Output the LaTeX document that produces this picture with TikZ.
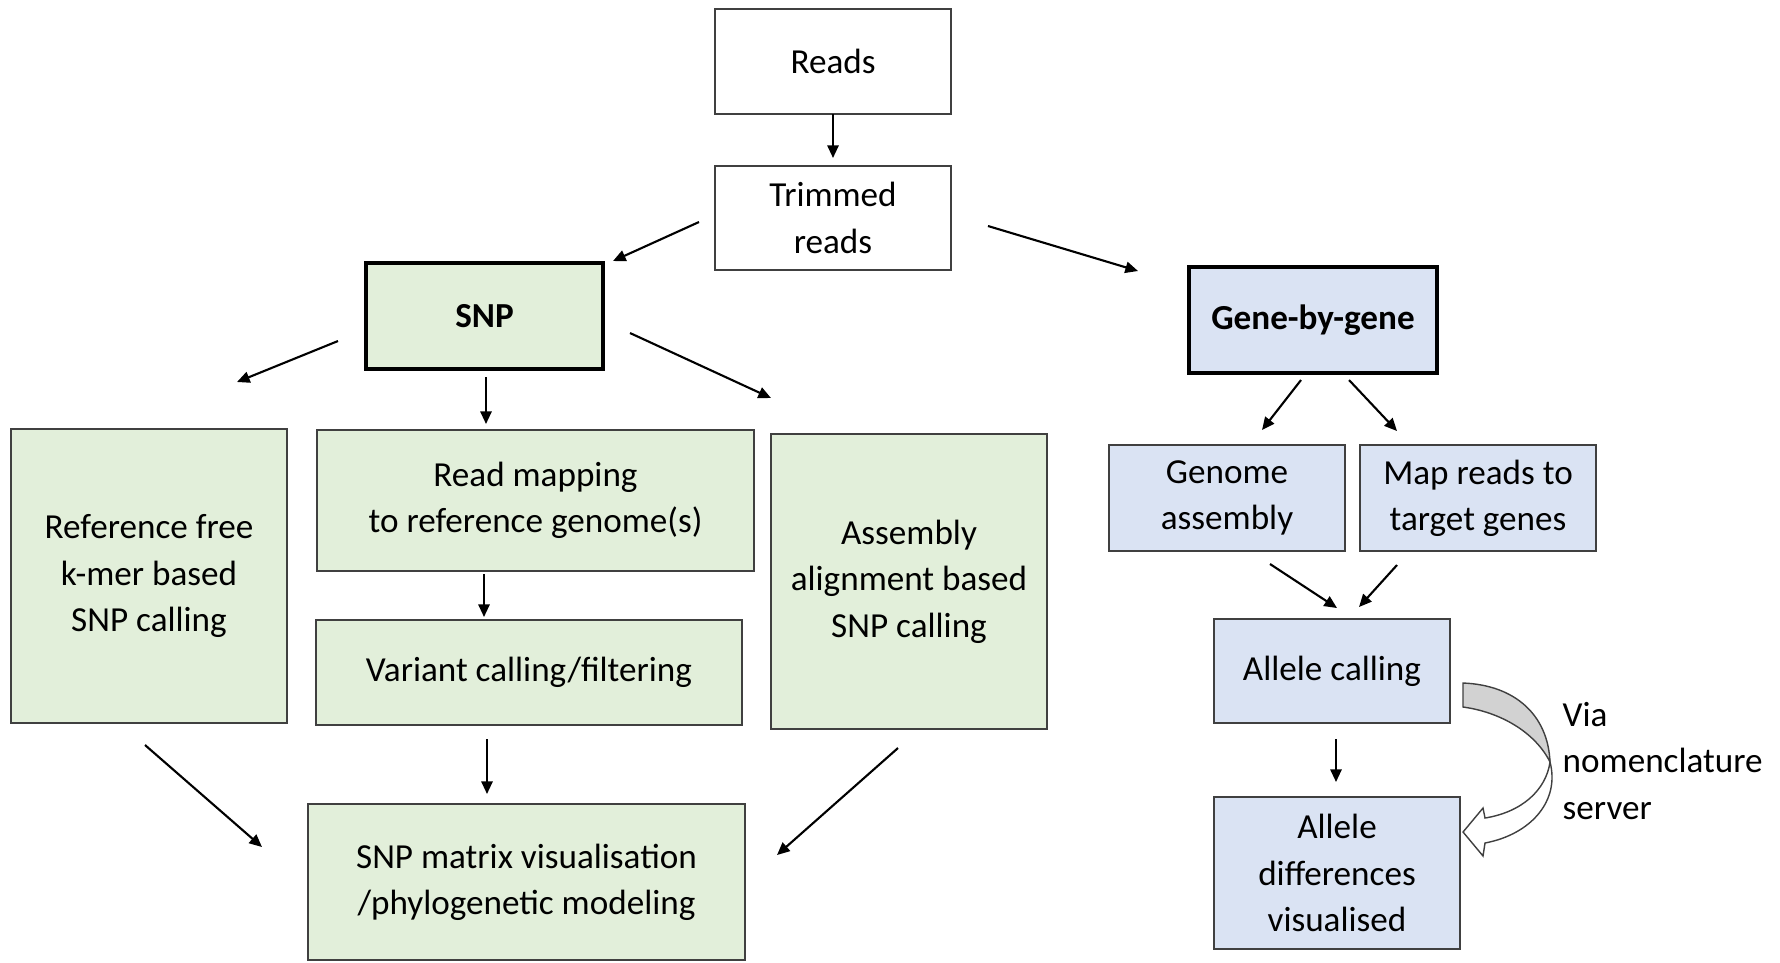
\documentclass[tikz,border=0pt]{standalone}
\usepackage{fontspec}
\setmainfont{Carlito}
\usetikzlibrary{arrows.meta}
\definecolor{gfill}{HTML}{E2EFDA}
\definecolor{bfill}{HTML}{DAE3F3}
\definecolor{edge}{HTML}{404040}
\begin{document}
\begin{tikzpicture}[x=0.1mm,y=-0.1mm,
  every node/.style={font=\fontsize{10}{13.2}\selectfont},
  box/.style={draw=edge, line width=0.45pt, align=center, inner sep=0pt},
  gbox/.style={box, fill=gfill},
  bbox/.style={box, fill=bfill},
  thickbox/.style={draw=black, line width=1.15pt, align=center, inner sep=0pt, font=\fontsize{10}{13.2}\selectfont\bfseries},
  arr/.style={-{Triangle[length=3.6pt,width=3.2pt]}, line width=0.6pt, black},
  curv/.style={draw=edge, line width=0.4pt}]
\useasboundingbox (0,0) rectangle (1780,962);

% nodes
\node[box, minimum width=23.6mm, minimum height=10.5mm] (reads) at (833,61.5) {Reads};
\node[box, minimum width=23.6mm, minimum height=10.4mm] (trim) at (833,218) {Trimmed\\reads};
\node[thickbox, fill=gfill, minimum width=23.7mm, minimum height=10.6mm] (snp) at (484.5,316) {SNP};
\node[thickbox, fill=bfill, minimum width=24.8mm, minimum height=10.6mm] (gbg) at (1313,320) {Gene-by-gene};
\node[gbox, minimum width=27.6mm, minimum height=29.4mm] (ref) at (149,576) {Reference free\\k-mer based\\SNP calling};
\node[gbox, minimum width=43.7mm, minimum height=14.1mm] (map) at (535.5,500.5) {Read mapping\\to reference genome(s)};
\node[gbox, minimum width=42.6mm, minimum height=10.5mm] (var) at (529,672.5) {Variant calling/filtering};
\node[gbox, minimum width=27.6mm, minimum height=29.5mm] (asm) at (909,581.5) {Assembly\\alignment based\\SNP calling};
\node[gbox, minimum width=43.7mm, minimum height=15.6mm] (mat) at (526.5,882) {SNP matrix visualisation\\/phylogenetic modeling};
\node[bbox, minimum width=23.6mm, minimum height=10.6mm] (gasm) at (1227,498) {Genome\\assembly};
\node[bbox, minimum width=23.6mm, minimum height=10.6mm] (mreads) at (1478,498) {Map reads to\\target genes};
\node[bbox, minimum width=23.6mm, minimum height=10.4mm] (acall) at (1332,671) {Allele calling};
\node[bbox, minimum width=24.6mm, minimum height=15.2mm] (adiff) at (1337,873) {Allele\\differences\\visualised};
\node[anchor=west, align=left, inner sep=0pt] (via) at (1562,761) {Via\\nomenclature\\server};

% arrow end points
\coordinate (a1s) at (833,114); \coordinate (a1e) at (833,158);
\coordinate (a2s) at (699,222); \coordinate (a2e) at (613,261);
\coordinate (a3s) at (988,226); \coordinate (a3e) at (1138,271);
\coordinate (a4s) at (338,341); \coordinate (a4e) at (237,382);
\coordinate (a5s) at (486,377); \coordinate (a5e) at (486,424);
\coordinate (a6s) at (630,333); \coordinate (a6e) at (771,398);
\coordinate (a7s) at (484,574); \coordinate (a7e) at (484,617);
\coordinate (a8s) at (145,745); \coordinate (a8e) at (262,847);
\coordinate (a9s) at (487,739); \coordinate (a9e) at (487,794);
\coordinate (a10s) at (898,748); \coordinate (a10e) at (777,855);
\coordinate (a11s) at (1301,380); \coordinate (a11e) at (1262,430);
\coordinate (a12s) at (1349,380); \coordinate (a12e) at (1397,431);
\coordinate (a13s) at (1270,564); \coordinate (a13e) at (1337,608);
\coordinate (a14s) at (1397,565); \coordinate (a14e) at (1359,607);
\coordinate (a15s) at (1336,739); \coordinate (a15e) at (1336,782);

\draw[arr] (a1s) -- (a1e);
\draw[arr] (a2s) -- (a2e);
\draw[arr] (a3s) -- (a3e);
\draw[arr] (a4s) -- (a4e);
\draw[arr] (a5s) -- (a5e);
\draw[arr] (a6s) -- (a6e);
\draw[arr] (a7s) -- (a7e);
\draw[arr] (a8s) -- (a8e);
\draw[arr] (a9s) -- (a9e);
\draw[arr] (a10s) -- (a10e);
\draw[arr] (a11s) -- (a11e);
\draw[arr] (a12s) -- (a12e);
\draw[arr] (a13s) -- (a13e);
\draw[arr] (a14s) -- (a14e);
\draw[arr] (a15s) -- (a15e);

% curved block arrow (allele calling -> allele differences)
\draw[curv, fill=gray!35] (1463,683) .. controls (1515,685) and (1548,715) .. (1550,762)
  .. controls (1535,732) and (1500,712) .. (1463,707) -- cycle;
\draw[curv, fill=white] (1550,762) .. controls (1546,790) and (1522,812) .. (1485,818)
  -- (1483,808) -- (1463,832) -- (1483,856) -- (1485,843)
  .. controls (1532,834) and (1560,800) .. (1550,762) -- cycle;
\end{tikzpicture}
\end{document}
